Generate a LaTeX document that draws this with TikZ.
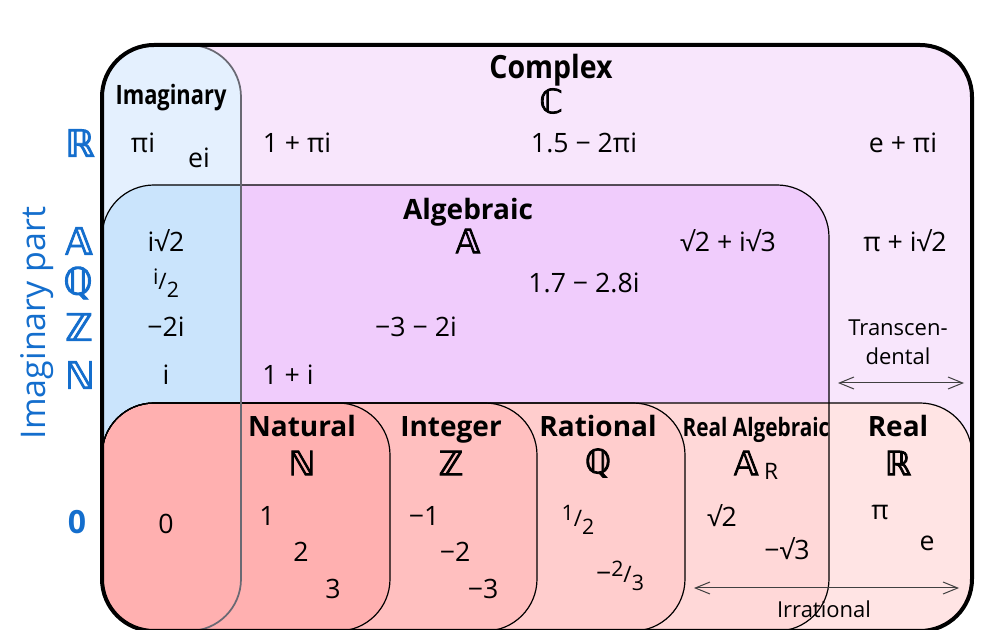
\documentclass[tikz,border=0pt]{standalone}
\usepackage{fontspec}
\setmainfont{Open Sans}
\newfontfamily\condfont{Open Sans}[FakeStretch=0.82]
\newfontfamily\widecondfont{Open Sans}[FakeStretch=0.89]
\newfontfamily\dsfont{DejaVu Sans}[FakeBold=2.5]
\usetikzlibrary{arrows.meta}

\definecolor{axisblue}{RGB}{20,110,205}
\definecolor{edgegray}{RGB}{105,105,115}
\definecolor{complexfill}{RGB}{248,230,252}
\definecolor{imagfill}{RGB}{228,240,254}
\definecolor{algfill}{RGB}{240,204,252}
\definecolor{algimagfill}{RGB}{202,228,252}
\definecolor{realfill}{RGB}{255,228,228}
\definecolor{realalgfill}{RGB}{255,216,216}
\definecolor{ratfill}{RGB}{255,205,205}
\definecolor{intfill}{RGB}{255,191,191}
\definecolor{natfill}{RGB}{255,176,176}

% small slanted fractions like 1/2
\newcommand\numfrac[2]{\raisebox{0.2em}{\fontsize{16}{16}\selectfont #1}{\fontsize{17}{17}\selectfont /}\raisebox{-0.3em}{\fontsize{16}{16}\selectfont #2}}

\begin{document}
\begin{tikzpicture}[
  x=0.75pt, y=-0.75pt,
  setbox/.style={rounded corners=39pt},
  setedge/.style={setbox, draw=black, line width=0.9pt},
  title/.style={font=\fontsize{21}{24}\selectfont\bfseries, text height=15pt, text depth=0pt},
  condtitle/.style={font=\fontsize{20}{24}\selectfont\condfont\bfseries, text height=14pt, text depth=0pt},
  setsym/.style={font=\fontsize{25}{28}\selectfont\dsfont},
  axsym/.style={font=\fontsize{28}{32}\selectfont\dsfont, text=axisblue},
  num/.style={font=\fontsize{20}{24}\selectfont},
  note/.style={font=\fontsize{16.5}{22}\selectfont, align=center},
  span/.style={{Straight Barb[length=11pt,width=9pt]}-{Straight Barb[length=11pt,width=9pt]}, line width=0.75pt, draw=black!75}
]
\useasboundingbox (0,0) rectangle (1000,630);

% regions
\fill[complexfill, setbox] (102,45) rectangle (972,631);
\fill[imagfill, setbox] (102,45) rectangle (241,631);
\fill[algfill, setbox] (102,185) rectangle (829,631);
\begin{scope}
  \clip[setbox] (102,45) rectangle (241,631);
  \fill[algimagfill, setbox] (102,185) rectangle (829,631);
\end{scope}
\fill[realfill, setbox] (102,403) rectangle (972,631);
\begin{scope}
  \clip[setbox] (102,185) rectangle (829,631);
  \fill[realalgfill, setbox] (102,403) rectangle (972,631);
\end{scope}
\fill[ratfill, setbox] (102,403) rectangle (685,631);
\fill[intfill, setbox] (102,403) rectangle (537,631);
\fill[natfill, setbox] (102,403) rectangle (390,631);

% outlines
\draw[setedge] (102,403) rectangle (390,631);
\draw[setedge] (102,403) rectangle (537,631);
\draw[setedge] (102,403) rectangle (685,631);
\draw[setedge] (102,403) rectangle (972,631);
\draw[setedge] (102,185) rectangle (829,631);
\draw[setbox, draw=edgegray, line width=1.3pt] (102,45) rectangle (241,631);
\draw[setbox, draw=black, line width=3pt] (102,45) rectangle (972,631);

% axis
\node[rotate=90, text=axisblue, font=\fontsize{25.5}{30}\selectfont] (axlabel) at (37,323) {Imaginary part};
\node[axsym] (axR) at (80,143) {ℝ};
\node[axsym] (axA) at (79,241) {𝔸};
\node[axsym] (axQ) at (78,283) {ℚ};
\node[axsym] (axZ) at (79,327) {ℤ};
\node[axsym] (axN) at (80,375) {ℕ};
\node[text=axisblue, font=\fontsize{24}{28}\selectfont\bfseries] (ax0) at (77,522) {0};

% titles
\node[condtitle, font=\fontsize{24}{28}\selectfont\widecondfont\bfseries, text height=17pt] (tComplex) at (551,67) {Complex};
\node[setsym] (sComplex) at (551,101) {ℂ};
\node[condtitle] (tImag) at (171,95) {Imaginary};
\node[title] (tAlg) at (468,210) {Algebraic};
\node[setsym] (sAlg) at (468,241) {𝔸};
\node[title] (tNat) at (302,427) {Natural};
\node[setsym] (sNat) at (302,463) {ℕ};
\node[title] (tInt) at (451,427) {Integer};
\node[setsym] (sInt) at (451,463) {ℤ};
\node[title] (tRat) at (598,427) {Rational};
\node[setsym] (sRat) at (598,463) {ℚ};
\node[condtitle, font=\fontsize{19}{24}\selectfont\condfont\bfseries] (tRalg) at (756,427) {Real Algebraic};
\node[setsym] (sRalg) at (756,465) {𝔸\,\raisebox{-0.12em}{\fontsize{17}{17}\selectfont\rmfamily R}};
\node[title] (tReal) at (898,427) {Real};
\node[setsym] (sReal) at (898,463) {ℝ};

% complex numbers
\node[num] (nPi) at (143,143) {πi};
\node[num] (nE) at (199,158) {ei};
\node[num] (nOnePi) at (297,143) {1 + πi};
\node[num] (nMid) at (584,143) {1.5 − 2πi};
\node[num] (nEPi) at (903,143) {e + πi};

% algebraic numbers
\node[num] (nISq) at (166,241) {i√2};
\node[num] (nIHalf) at (166,283) {\numfrac{i}{2}};
\node[num] (nMTwoI) at (166,327) {−2i};
\node[num] (nI) at (166,375) {i};
\node[num] (nSqSq) at (728,241) {√2 + i√3};
\node[num] (nPiSq) at (905,241) {π + i√2};
\node[num] (nDec) at (584,283) {1.7 − 2.8i};
\node[num] (nMThree) at (416,327) {−3 − 2i};
\node[num] (nOneI) at (288,375) {1 + i};

% transcendental span
\node[note] (trans) at (898,342) {Transcen-\\dental};
\coordinate (transL) at (838,383);
\coordinate (transR) at (964,383);
\draw[span] (transL) -- (transR);

% real numbers
\node[num] (nZero) at (166,524) {0};
\node[num] (nOne) at (267,516) {1};
\node[num] (nTwo) at (301,552) {2};
\node[num] (nThree) at (333,589) {3};
\node[num] (nM1) at (424,516) {−1};
\node[num] (nM2) at (455,552) {−2};
\node[num] (nM3) at (483,589) {−3};
\node[num] (nHalf) at (578,520) {\numfrac{1}{2}};
\node[num] (nTwoThirds) at (620,576) {−\numfrac{2}{3}};
\node[num] (nSqTwo) at (722,516) {√2};
\node[num] (nSqThree) at (787,549) {−√3};
\node[num] (nPiR) at (880,512) {π};
\node[num] (nER) at (927,543) {e};

% irrational span
\coordinate (irrL) at (694,588);
\coordinate (irrR) at (959,588);
\draw[span] (irrL) -- (irrR);
\node[note] (irr) at (824,609) {Irrational};

\end{tikzpicture}
\end{document}
